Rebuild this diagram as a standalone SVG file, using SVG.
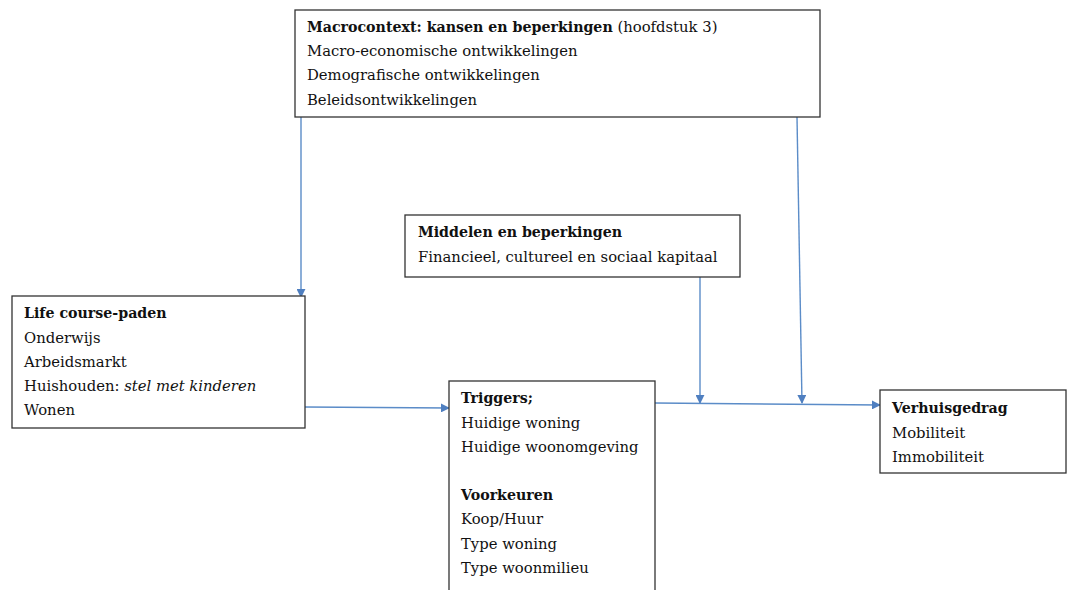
<svg xmlns="http://www.w3.org/2000/svg" width="1067" height="590" viewBox="0 0 1067 590">
<defs>
<style>
.box{fill:#fff;stroke:#333;stroke-width:1.3}
text{font-family:"DejaVu Serif","Liberation Serif",serif;font-size:14.8px;fill:#111}
.b{font-weight:bold;font-size:14.2px}
.i{font-style:italic}
.c{stroke:#5b8cc8;stroke-width:1.4;fill:none;marker-end:url(#a)}
</style>
<marker id="a" viewBox="0 0 10 10" refX="9" refY="5" markerWidth="9" markerHeight="9" orient="auto" markerUnits="userSpaceOnUse"><path d="M0,0 L10,5 L0,10 z" fill="#4f7fc0"/></marker>
</defs>
<rect width="1067" height="590" fill="#fff"/>
<g id="connectors">
<line class="c" x1="301" y1="117" x2="301" y2="297"/>
<line class="c" x1="797" y1="117" x2="802" y2="403"/>
<line class="c" x1="700" y1="277" x2="700" y2="403"/>
<line class="c" x1="305" y1="407" x2="449" y2="408"/>
<line class="c" x1="655" y1="403" x2="880" y2="405"/>
</g>
<g id="macro">
<rect class="box" x="295" y="10" width="525" height="107"/>
<text x="307" y="32"><tspan class="b">Macrocontext: kansen en beperkingen</tspan> (hoofdstuk 3)</text>
<text x="307" y="56">Macro-economische ontwikkelingen</text>
<text x="307" y="80">Demografische ontwikkelingen</text>
<text x="307" y="105">Beleidsontwikkelingen</text>
</g>
<g id="middelen">
<rect class="box" x="405" y="215" width="335" height="62"/>
<text class="b" x="418" y="237">Middelen en beperkingen</text>
<text x="418" y="262">Financieel, cultureel en sociaal kapitaal</text>
</g>
<g id="lifecourse">
<rect class="box" x="12" y="296" width="293" height="132"/>
<text class="b" x="24" y="318">Life course-paden</text>
<text x="24" y="343">Onderwijs</text>
<text x="24" y="367">Arbeidsmarkt</text>
<text x="24" y="391">Huishouden: <tspan class="i">stel met kinderen</tspan></text>
<text x="24" y="415">Wonen</text>
</g>
<g id="triggers">
<rect class="box" x="449" y="381" width="206" height="215"/>
<text class="b" x="461" y="403">Triggers;</text>
<text x="461" y="428">Huidige woning</text>
<text x="461" y="452">Huidige woonomgeving</text>
<text class="b" x="461" y="500">Voorkeuren</text>
<text x="461" y="524">Koop/Huur</text>
<text x="461" y="549">Type woning</text>
<text x="461" y="573">Type woonmilieu</text>
</g>
<g id="verhuisgedrag">
<rect class="box" x="880" y="390" width="186" height="83"/>
<text class="b" x="892" y="413">Verhuisgedrag</text>
<text x="892" y="438">Mobiliteit</text>
<text x="892" y="462">Immobiliteit</text>
</g>
</svg>
